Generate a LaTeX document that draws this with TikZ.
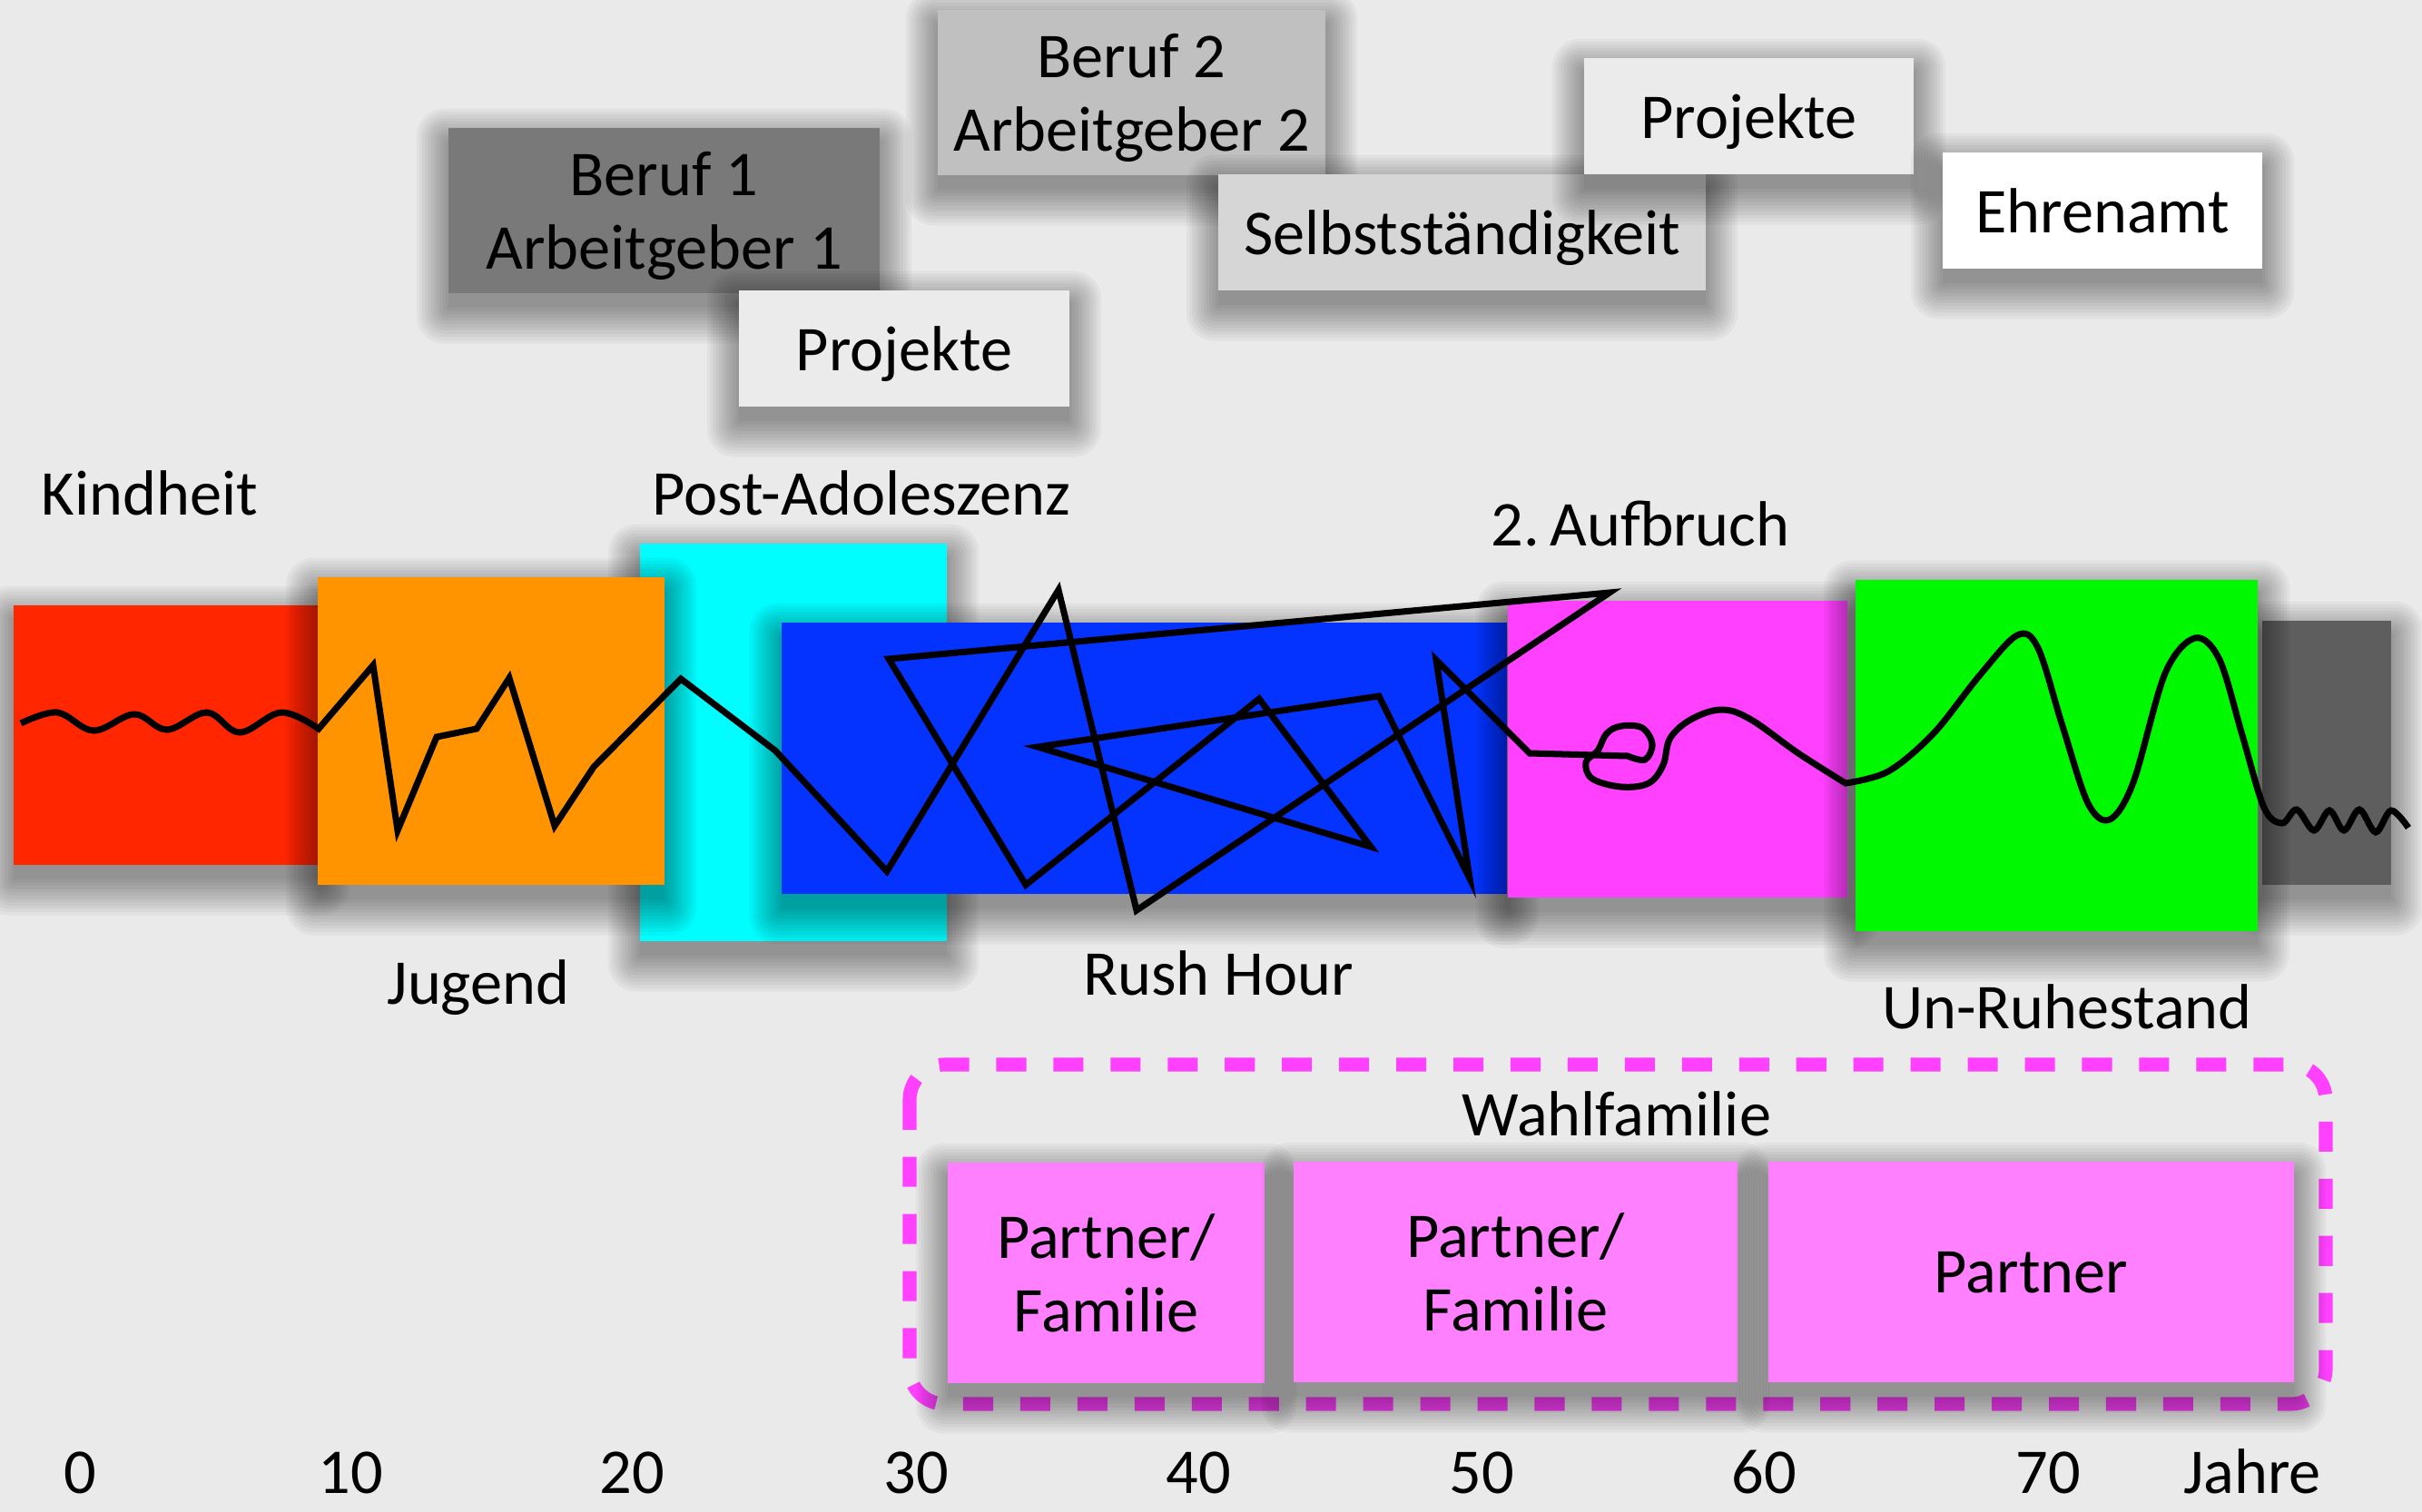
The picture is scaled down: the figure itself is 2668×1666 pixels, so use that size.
\documentclass[tikz,border=0pt]{standalone}
\usepackage{fontspec}
\setmainfont{Carlito}
\definecolor{bg}{HTML}{EAEAEA}
\definecolor{cred}{HTML}{FF2600}
\definecolor{corange}{HTML}{FF9300}
\definecolor{ccyan}{HTML}{00FDFF}
\definecolor{cblue}{HTML}{0433FF}
\definecolor{cmag}{HTML}{FF40FF}
\definecolor{cgreen}{HTML}{00F900}
\definecolor{cdgray}{HTML}{5E5E5E}
\definecolor{cpink}{HTML}{FF80FF}
\definecolor{gA}{HTML}{797979}
\definecolor{gB}{HTML}{C0C0C0}
\definecolor{gC}{HTML}{D6D6D6}
\definecolor{gD}{HTML}{EBEBEB}
\tikzset{
  shadowlayer/.style={fill=black, opacity=0.036},
  tbox/.style={inner sep=0pt, align=center, text=black, text depth=0pt},
  lbl/.style={anchor=base, inner sep=0pt},
  curve/.style={line width=2pt, line join=miter, black},
  groupline/.style={cmag, line width=4.3pt, rounded corners=11pt, dash pattern=on 9.4pt off 8.5pt},
}
% soft drop shadow: corners x1,y1,x2,y2 (pixel units, y downwards)
\newcommand{\dshadow}[4]{%
  \foreach \k in {0,...,11}{%
    \fill[shadowlayer, rounded corners={\k*0.8pt}] ({#1-3.2*\k},{#2+16-3.4*\k}) rectangle ({#3+3.2*\k},{#4+16+3.6*\k});%
  }%
}
\newcommand{\dbox}[5]{% x1 y1 x2 y2 colour
  \dshadow{#1}{#2}{#3}{#4}%
  \fill[#5] (#1,#2) rectangle (#3,#4);%
}
\begin{document}
\begin{tikzpicture}[x=0.01cm, y=-0.01cm, font=\fontsize{20}{23}\selectfont]
\useasboundingbox (0,0) rectangle (2668,1666);
\fill[bg] (0,0) rectangle (2668,1666);

% phase bars
\dbox{15}{667}{350}{953}{cred}
\dbox{705}{599}{1043}{1037}{ccyan}
\dbox{350}{636}{732}{975}{corange}
\dbox{861}{686}{1660}{985}{cblue}
\dbox{1661}{662}{2035}{989}{cmag}
\dbox{2492}{684}{2634}{975}{cdgray}
\dbox{2044}{639}{2487}{1026}{cgreen}

% top boxes
\dshadow{494}{141}{969}{323}
\node[tbox, fill=gA, minimum width=4.75cm, minimum height=1.82cm] (b1) at (731.5,232) {Beruf 1\\Arbeitgeber 1};
\dshadow{814}{320}{1178}{448}
\node[tbox, fill=gD, minimum width=3.64cm, minimum height=1.28cm] (pj1) at (996,384) {Projekte};
\dshadow{1033}{11}{1460}{193}
\node[tbox, fill=gB, minimum width=4.27cm, minimum height=1.82cm] (b2) at (1246.5,102) {Beruf 2\\Arbeitgeber 2};
\dshadow{1342}{192}{1879}{320}
\node[tbox, fill=gC, minimum width=5.37cm, minimum height=1.28cm] (sb) at (1610.5,256) {Selbstständigkeit};
\dshadow{1745}{64}{2108}{192}
\node[tbox, fill=gD, minimum width=3.63cm, minimum height=1.28cm] (pj2) at (1926.5,128) {Projekte};
\dshadow{2140}{168}{2492}{296}
\node[tbox, fill=white, minimum width=3.52cm, minimum height=1.28cm] (eh) at (2316,232) {Ehrenamt};

% phase labels
\node[lbl] (kh) at (165,567) {Kindheit};
\node[lbl] (jg) at (527,1106) {Jugend};
\node[lbl] (pa) at (949,567) {Post-Adoleszenz};
\node[lbl] (rh) at (1342,1096) {Rush Hour};
\node[lbl] (ab) at (1807,601) {2.\,Aufbruch};
\node[lbl] (ur) at (2277,1133) {Un-Ruhestand};

% life curve
\draw[curve] plot[smooth, tension=0.6] coordinates {(23,797) (63,785) (103,805) (148,787) (184,804) (228,785) (264,807) (310,785) (351,803)}
  -- (411,733) -- (438,915) -- (481,812) -- (525,803) -- (561,747) -- (611,910) -- (654,845) -- (750,748) -- (854,827) -- (977,960)
  -- (1166,650) -- (1252,1003) -- (1773,653) -- (979,726) -- (1130,975) -- (1387,770) -- (1510,933) -- (1143,823) -- (1519,767)
  -- (1619,968) -- (1582,727) -- (1685,830) -- (1793,833)
  -- plot[smooth, tension=0.6] coordinates {(1793,833) (1812,837) (1820,820) (1809,802) (1786,800) (1770,808) (1760,827) (1747,840) (1754,858) (1786,867) (1816,863) (1832,843) (1840,813) (1864,792) (1897,782) (1929,793) (1981,830) (2033,863)}
  -- plot[smooth, tension=0.55] coordinates {(2033,863) (2080,850) (2130,808) (2180,745) (2222,700) (2245,714) (2272,800) (2300,885) (2324,903) (2350,862) (2385,742) (2418,703) (2445,727) (2470,810) (2494,890) (2514,907) (2530,892) (2549,915) (2566,893) (2582,915) (2599,892) (2617,917) (2634,893) (2653,912)};

% Wahlfamilie group
\draw[groupline] (1002,1173) rectangle (2562,1547);
\node[lbl] (wf) at (1781,1251) {Wahlfamilie};
\dshadow{1044}{1281}{1393}{1524}
\node[tbox, fill=cpink, minimum width=3.49cm, minimum height=2.43cm] (p1) at (1218.5,1402.5) {Partner/\\Familie};
\dshadow{1425}{1280}{1914}{1523}
\node[tbox, fill=cpink, minimum width=4.89cm, minimum height=2.43cm] (p2) at (1669.5,1401.5) {Partner/\\Familie};
\dshadow{1948}{1280}{2527}{1523}
\node[tbox, fill=cpink, minimum width=5.79cm, minimum height=2.43cm] (p3) at (2237.5,1401.5) {Partner};

% axis
\node[lbl] (a0) at (88,1645) {0};
\node[lbl] (a10) at (386,1645) {10};
\node[lbl] (a20) at (696,1645) {20};
\node[lbl] (a30) at (1009,1645) {30};
\node[lbl] (a40) at (1320,1645) {40};
\node[lbl] (a50) at (1632,1645) {50};
\node[lbl] (a60) at (1943,1645) {60};
\node[lbl] (a70) at (2256,1645) {70};
\node[lbl] (aj) at (2481,1645) {Jahre};
\end{tikzpicture}
\end{document}
